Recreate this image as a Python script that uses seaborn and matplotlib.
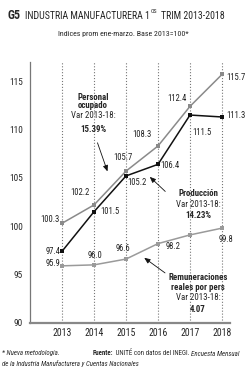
import matplotlib
matplotlib.use("Agg")
import matplotlib.pyplot as plt
import seaborn as sns
import pandas as pd

years = [2013, 2014, 2015, 2016, 2017, 2018]
personal = [100.3, 102.2, 105.7, 108.3, 112.4, 115.7]
produccion = [97.4, 101.5, 105.2, 106.4, 111.5, 111.3]
remuneraciones = [95.9, 96.0, 96.6, 98.2, 99.1, 99.8]
yticks = [90, 95, 100, 105, 110, 115]

sns.set_style("white")
FONT = ['Roboto Condensed', 'Liberation Sans Narrow', 'Liberation Sans', 'DejaVu Sans']
plt.rcParams['font.family'] = FONT

W, H = 250, 375
fig = plt.figure(figsize=(2.5, 3.75), dpi=100)
R = fig.canvas.get_renderer()


def size_for(s, target_w, **kw):
    t = fig.text(0, 0, s, fontsize=10, **kw)
    w = t.get_window_extent(R).width
    t.remove()
    return 10 * target_w / w


def fx(px):
    return px / W


def fy(py):
    return 1 - py / H


df = pd.DataFrame({
    'year': years * 3,
    'value': personal + produccion + remuneraciones,
    'serie': ['Personal'] * 6 + ['Produccion'] * 6 + ['Remuneraciones'] * 6,
})
palette = {'Personal': '#8a8a8a', 'Produccion': '#111111', 'Remuneraciones': '#9a9a9a'}

ax = fig.add_axes([0.12, 0.139, 0.80, 0.696])
sns.lineplot(data=df, x='year', y='value', hue='serie', palette=palette,
             marker='s', markersize=3, markeredgewidth=0, linewidth=1.1,
             legend=False, ax=ax)

TICK = min(8.5, size_for('115', 13.5))
XT = min(8.5, size_for('2013', 19))
LAB = min(8, size_for('100.3', 19))
BS = min(8, size_for('Var 2013-18:', 44))

ax.set_xlim(2012, 2018.25)
ax.set_ylim(90, 117)
ax.set_xticks(years)
ax.set_yticks(yticks)
ax.set_xlabel('')
ax.set_ylabel('')
ax.tick_params(axis='y', direction='inout', length=4, width=0.8, color='#666', labelsize=TICK, pad=3)
ax.tick_params(axis='x', length=0, labelsize=XT, pad=4)
ax.grid(axis='x', linestyle=':', color='#777', linewidth=0.8)
ax.grid(axis='y', visible=False)
for s in ['top', 'right']:
    ax.spines[s].set_visible(False)
ax.spines['left'].set_color('#777')
ax.spines['left'].set_linewidth(0.9)
ax.spines['bottom'].set_color('#888')
ax.spines['bottom'].set_linewidth(1.6)

lab_kw = dict(textcoords='offset pixels', fontsize=LAB, color='#222', annotation_clip=False,
              va='center')
# label placement: (dx, dy, ha) in pixels relative to the point
pers_off = [(-2, 4, 'right'), (-4, 12, 'right'), (-3, 14, 'center'),
            (-6, 11, 'right'), (-3, 8, 'right'), (4, -3, 'left')]
prod_off = [(-2, 0, 'right'), (6, 0, 'left'), (1, -7, 'left'),
            (2, -1, 'left'), (2, -17, 'left'), (4, 1, 'left')]
rem_off = [(-2, 2, 'right'), (1, 9, 'center'), (-3, 11, 'center'),
           (8, -3, 'left'), None, (-3, -11, 'left')]
for series, offs in ((personal, pers_off), (produccion, prod_off), (remuneraciones, rem_off)):
    for x, y, off in zip(years, series, offs):
        if off is None:
            continue
        dx, dy, ha = off
        ax.annotate(f'{y:.1f}', (x, y), xytext=(dx, dy), ha=ha, **lab_kw)

arrow = dict(arrowstyle='-|>,head_length=0.35,head_width=0.15', color='#111', lw=0.6)

# Personal ocupado block
fig.text(fx(93), fy(97), 'Personal', ha='center', va='center', fontsize=BS, fontweight='bold')
fig.text(fx(93), fy(106), 'ocupado', ha='center', va='center', fontsize=BS, fontweight='bold')
fig.text(fx(93), fy(116), 'Var 2013-18:', ha='center', va='center', fontsize=BS)
fig.text(fx(93), fy(130), '15.39%', ha='center', va='center', fontsize=BS, fontweight='bold')
ax.annotate('', xy=(2014.45, 105.4), xytext=(2014.08, 108.9), textcoords='data', arrowprops=arrow)

# Produccion block
fig.text(fx(198), fy(193), 'Producción', ha='center', va='center', fontsize=BS, fontweight='bold')
fig.text(fx(198), fy(204), 'Var 2013-18:', ha='center', va='center', fontsize=BS)
fig.text(fx(198), fy(215), '14.23%', ha='center', va='center', fontsize=BS, fontweight='bold')
ax.annotate('', xy=(2015.68, 105.3), xytext=(2016.29, 103.4), textcoords='data', arrowprops=arrow)

# Remuneraciones block
fig.text(fx(198), fy(277), 'Remuneraciones', ha='center', va='center', fontsize=BS, fontweight='bold')
fig.text(fx(198), fy(287), 'reales por pers', ha='center', va='center', fontsize=BS, fontweight='bold')
fig.text(fx(198), fy(298), 'Var 2013-18:', ha='center', va='center', fontsize=BS)
fig.text(fx(198), fy(309), '4.07', ha='center', va='center', fontsize=BS, fontweight='bold')
ax.annotate('', xy=(2015.5, 96.9), xytext=(2016.29, 95.0), textcoords='data', arrowprops=arrow)

# Title (fitted so that it spans x=25..225 px)
g5s = min(11, size_for('G5', 13, fontweight='bold'))
fig.text(fx(7), fy(19), 'G5', ha='left', va='baseline', fontsize=g5s, fontweight='bold')
ts = 10
t1 = fig.text(fx(25), fy(19), 'INDUSTRIA MANUFACTURERA 1', ha='left', va='baseline', fontsize=ts)
t2 = fig.text(0, fy(13), 'OS', ha='left', va='baseline', fontsize=ts * 0.6)
t3 = fig.text(0, fy(19), 'TRIM 2013-2018', ha='left', va='baseline', fontsize=ts)
ws = [t.get_window_extent(R).width for t in (t1, t2, t3)]
scale = (200 - 5) / sum(ws)
ts = ts * scale
for t, f in ((t1, 1.0), (t2, 0.6), (t3, 1.0)):
    t.set_fontsize(ts * f)
w1 = t1.get_window_extent(R).width
w2 = t2.get_window_extent(R).width
t2.set_x(fx(25 + w1 + 1))
t3.set_x(fx(25 + w1 + 1 + w2 + 4))

sub = 'Indices prom ene-marzo. Base 2013=100*'
fig.text(fx(123), fy(34), sub, ha='center', va='center', fontsize=size_for(sub, 130))

# Footer
l0 = '* Nueva metodología.'
fs = size_for('de la Industria Manufacturera y Cuentas Nacionales', 136, style='italic')
fig.text(fx(2), fy(353), l0, ha='left', va='center', fontsize=fs, style='italic')
f1 = fig.text(fx(93), fy(353), 'Fuente:', ha='left', va='center', fontsize=fs, fontweight='bold')
f2 = ax.annotate(' UNITÉ con datos del INEGI. ', xy=(1, 0), xycoords=f1, ha='left', va='bottom', fontsize=fs)
ax.annotate('Encuesta Mensual', xy=(1, 0), xycoords=f2, ha='left', va='bottom', fontsize=fs, style='italic')
fig.text(fx(2), fy(364), 'de la Industria Manufacturera y Cuentas Nacionales', ha='left', va='center',
         fontsize=fs, style='italic')

fig.savefig('out.png', dpi=100)
